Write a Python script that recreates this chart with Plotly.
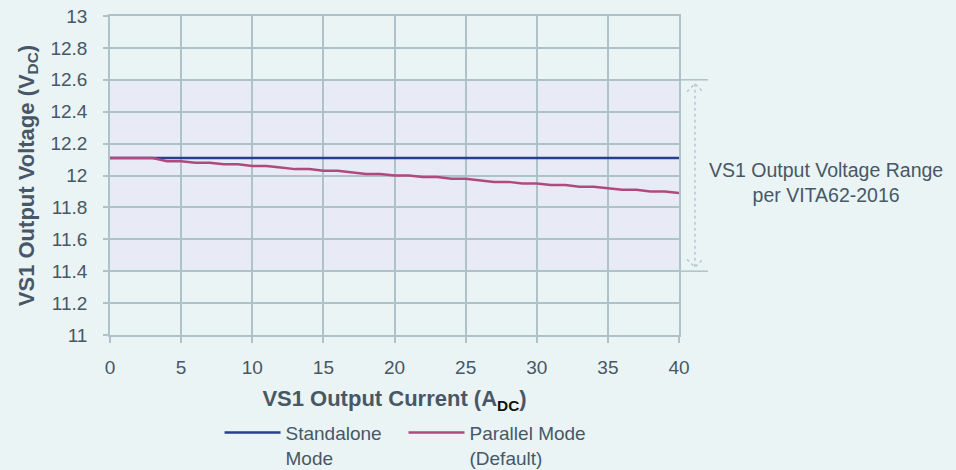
import plotly.graph_objects as go

current = list(range(0, 41))
standalone = [12.11] * 41
parallel = [12.11, 12.11, 12.11, 12.11, 12.09, 12.09, 12.08, 12.08, 12.07, 12.07,
            12.06, 12.06, 12.05, 12.04, 12.04, 12.03, 12.03, 12.02, 12.01, 12.01,
            12.00, 12.00, 11.99, 11.99, 11.98, 11.98, 11.97, 11.96, 11.96, 11.95,
            11.95, 11.94, 11.94, 11.93, 11.93, 11.92, 11.91, 11.91, 11.90, 11.90,
            11.89]
range_low, range_high = 11.4, 12.6
x_ticks = [0, 5, 10, 15, 20, 25, 30, 35, 40]
y_ticks = [11, 11.2, 11.4, 11.6, 11.8, 12, 12.2, 12.4, 12.6, 12.8, 13]

BG = "#eaf4f5"
BAND = "#e8eaf6"
GRID = "#adc2c9"
TXT = "#485766"
BLUE = "#283f8e"
MAG = "#b04a7e"
FONT = "Liberation Sans, Arial, sans-serif"

fig = go.Figure()
fig.add_trace(go.Scatter(x=current, y=standalone, mode="lines", legend="legend",
                         name="Standalone<br>Mode", line=dict(color=BLUE, width=2.5)))
fig.add_trace(go.Scatter(x=current, y=parallel, mode="lines", legend="legend2",
                         name="Parallel Mode<br>(Default)", line=dict(color=MAG, width=2.5)))

shapes = [
    dict(type="rect", xref="paper", yref="y", x0=0, x1=1, y0=range_low, y1=range_high,
         fillcolor=BAND, line=dict(width=0), layer="below"),
    dict(type="line", xref="paper", yref="y", x0=1, x1=1.051, y0=range_high, y1=range_high,
         line=dict(color=GRID, width=1.5)),
    dict(type="line", xref="paper", yref="y", x0=1, x1=1.051, y0=range_low, y1=range_low,
         line=dict(color=GRID, width=1.5)),
    dict(type="line", xref="paper", yref="y", x0=1.028, x1=1.028, y0=range_high - 0.025, y1=range_low + 0.025,
         line=dict(color="#b8c8ce", width=1.5, dash="dot")),
]
ax = 1.028
dx = 0.014
for yv, sgn in [(range_high - 0.025, -1), (range_low + 0.025, 1)]:
    shapes.append(dict(type="path", xref="paper", yref="y",
                       path=f"M {ax-dx},{yv + sgn*0.05} L {ax},{yv} L {ax+dx},{yv + sgn*0.05}",
                       line=dict(color="#b8c8ce", width=1.5, dash="dot")))

leg_common = dict(orientation="h", xanchor="left", yref="container", y=0.12, yanchor="top",
                  font=dict(size=19, color=TXT), valign="top", bgcolor="rgba(0,0,0,0)",
                  itemwidth=56)

fig.update_layout(
    width=956, height=470,
    margin=dict(l=110, r=277, t=16, b=135),
    paper_bgcolor=BG, plot_bgcolor=BG,
    font=dict(family=FONT, color=TXT, size=19),
    shapes=shapes,
    showlegend=True,
    legend=dict(x=0.1925, **leg_common),
    legend2=dict(x=0.5158, **leg_common),
    annotations=[dict(xref="paper", yref="paper", x=1.258, y=0.478, xanchor="center", yanchor="middle",
                      text="VS1 Output Voltage Range<br>per VITA62-2016", showarrow=False,
                      align="center", font=dict(size=19.5, color=TXT))],
)
fig.update_xaxes(range=[0, 40], tickvals=x_ticks, showgrid=True, gridcolor=GRID, gridwidth=1.5,
                 showline=True, linecolor=GRID, linewidth=1.5, mirror=True, automargin=False,
                 ticks="outside", ticklen=6, tickcolor=GRID, tickwidth=1.5,
                 ticklabelstandoff=8, zeroline=False, tickfont=dict(size=19, color=TXT),
                 title=dict(text="<b>VS1 Output Current (A<sub><span style='color:#111'>DC</span></sub>)</b>",
                            font=dict(size=22, color=TXT), standoff=14))
fig.update_yaxes(range=[11, 13], tickvals=y_ticks, showgrid=True, gridcolor=GRID, gridwidth=1.5,
                 showline=True, linecolor=GRID, linewidth=1.5, mirror=True, automargin=False,
                 ticks="outside", ticklen=5, tickcolor=GRID, tickwidth=1.5,
                 ticklabelstandoff=12, zeroline=False, tickfont=dict(size=19, color=TXT),
                 title=dict(text="<b>VS1 Output Voltage (V<sub>DC</sub>)</b>",
                            font=dict(size=22, color=TXT), standoff=10))

fig.write_html("out.html", config={"displayModeBar": False},
               post_script="document.body.style.margin='0';document.body.style.overflow='hidden';")
